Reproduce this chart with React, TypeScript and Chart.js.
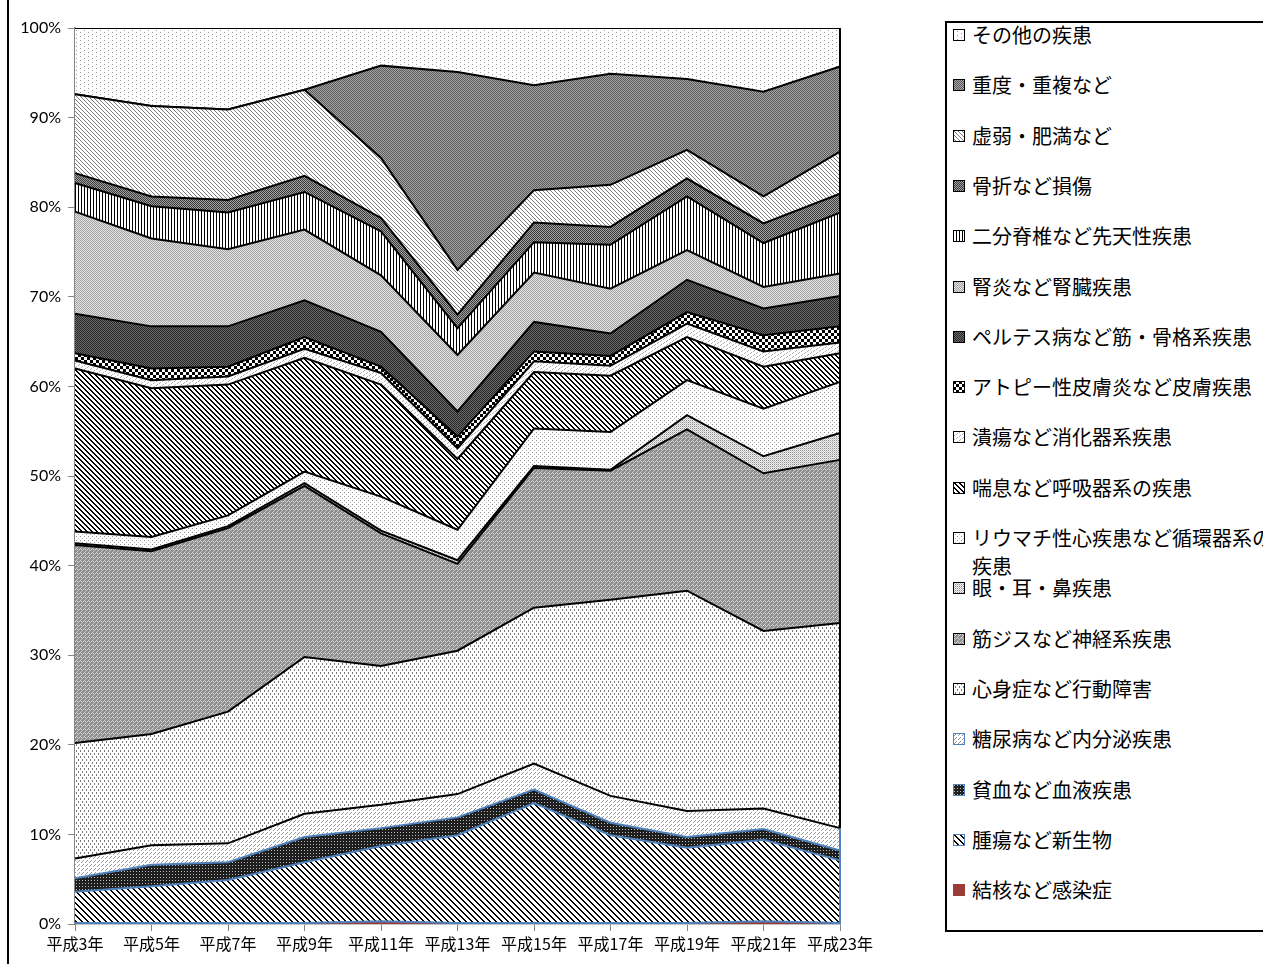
import React, { useEffect, useRef } from 'react';
import { Chart, registerables } from 'chart.js';
Chart.register(...registerables);

const categories = ['平成3年', '平成5年', '平成7年', '平成9年', '平成11年', '平成13年', '平成15年', '平成17年', '平成19年', '平成21年', '平成23年'];

// shares (%) per year, bottom of stack first
const kekkaku = [0.1, 0.1, 0.1, 0.1, 0.3, 0.1, 0.1, 0.1, 0.1, 0.3, 0.1];
const shuyou = [3.5, 4.1, 4.8, 6.8, 8.4, 9.8, 13.4, 9.8, 8.4, 9.1, 7.0];
const hinketsu = [1.5, 2.4, 2.0, 2.8, 2.0, 2.0, 1.5, 1.4, 1.2, 1.2, 1.1];
const tounyou = [2.2, 2.2, 2.1, 2.6, 2.6, 2.6, 2.9, 3.0, 2.9, 2.3, 2.5];
const shinshin = [12.9, 12.4, 14.7, 17.5, 15.5, 16.0, 17.4, 21.9, 24.6, 19.8, 22.9];
const kinjisu = [22.1, 20.4, 20.5, 19.1, 14.8, 9.7, 15.6, 14.4, 18.0, 17.6, 18.2];
const ganjibi = [0.2, 0.2, 0.2, 0.3, 0.3, 0.4, 0.2, 0.1, 1.6, 1.9, 3.0];
const ryumachi = [1.3, 1.4, 1.2, 1.3, 3.8, 3.4, 4.2, 4.2, 3.9, 5.3, 5.7];
const zensoku = [18.2, 16.6, 14.6, 12.7, 12.5, 7.9, 6.3, 6.3, 4.8, 4.7, 3.2];
const kaiyou = [0.9, 0.9, 0.9, 1.0, 1.3, 1.2, 1.2, 1.1, 1.5, 1.7, 1.2];
const atopy = [0.8, 1.3, 1.1, 1.3, 0.7, 1.3, 1.1, 1.1, 1.3, 1.8, 1.8];
const perthes = [4.4, 4.7, 4.5, 4.1, 3.9, 2.8, 3.3, 2.5, 3.6, 3.0, 3.4];
const jinen = [11.4, 9.8, 8.6, 7.9, 6.3, 6.3, 5.5, 5.0, 3.3, 2.4, 2.5];
const nibun = [3.2, 3.6, 4.1, 4.2, 4.9, 3.0, 3.4, 4.9, 6.0, 4.9, 6.8];
const kossetsu = [1.1, 1.1, 1.4, 1.8, 1.5, 1.5, 2.2, 2.0, 2.0, 2.2, 2.1];
const kyojaku = [8.8, 10.1, 10.1, 9.6, 6.7, 5.0, 3.6, 4.7, 3.2, 3.0, 4.7];
const juudo = [0, 0, 0, 0, 10.3, 22.1, 11.7, 12.4, 7.9, 11.7, 9.5];
const sonota = [7.4, 8.7, 9.1, 6.9, 4.2, 4.9, 6.4, 5.1, 5.7, 7.1, 4.3];

const yTicks = [0, 10, 20, 30, 40, 50, 60, 70, 80, 90, 100];

const BLUE = '#4F81BD';

type Px = [number, number, string];
function makeTile(w: number, h: number, bg: string, px: Px[]): HTMLCanvasElement {
  const c = document.createElement('canvas');
  c.width = w;
  c.height = h;
  const g = c.getContext('2d')!;
  g.fillStyle = bg;
  g.fillRect(0, 0, w, h);
  for (const [x, y, col] of px) {
    g.fillStyle = col;
    g.fillRect(x, y, 1, 1);
  }
  return c;
}
function diagTile(w: number, thick: number, color: string, bg: string) {
  const px: Px[] = [];
  for (let i = 0; i < w; i++) for (let t = 0; t < thick; t++) px.push([(i + t) % w, i, color]);
  return makeTile(w, w, bg, px);
}

const tiles: Record<string, () => HTMLCanvasElement | string> = {
  kekkaku: () => '#9B3B38',
  shuyou: () => diagTile(6, 2, '#000', '#fff'),
  hinketsu: () => makeTile(3, 3, '#1e1e1e', [[1, 1, '#bbbbbb']]),
  tounyou: () => makeTile(4, 4, '#fff', [[1, 2, '#9a9a9a'], [2, 1, '#9a9a9a'], [3, 0, '#9a9a9a']]),
  shinshin: () => makeTile(4, 6, '#fff', [[0, 0, '#7a7a7a'], [0, 1, '#7a7a7a'], [2, 3, '#7a7a7a'], [2, 4, '#7a7a7a']]),
  kinjisu: () => makeTile(4, 4, '#8e8e8e', [[0, 0, '#d6d6d6'], [1, 1, '#d6d6d6'], [2, 2, '#c8c8c8'], [3, 1, '#d6d6d6'], [1, 3, '#c8c8c8']]),
  ganjibi: () => makeTile(2, 2, '#f2f2f2', [[0, 0, '#8a8a8a'], [1, 1, '#c8c8c8']]),
  ryumachi: () => makeTile(4, 4, '#fff', [[0, 0, '#8f8f8f'], [2, 2, '#b5b5b5']]),
  zensoku: () => diagTile(5, 2, '#000', '#fff'),
  kaiyou: () => makeTile(6, 4, '#fff', [[0, 1, '#b0b0b0'], [1, 0, '#b0b0b0'], [3, 3, '#b0b0b0'], [4, 2, '#b0b0b0']]),
  atopy: () => {
    const px: Px[] = [];
    for (let i = 0; i < 3; i++) for (let j = 0; j < 3; j++) { px.push([i, j, '#000']); px.push([i + 3, j + 3, '#000']); }
    return makeTile(6, 6, '#fff', px);
  },
  perthes: () => makeTile(2, 2, '#6c6c6c', [[0, 0, '#262626'], [1, 1, '#262626']]),
  jinen: () => makeTile(2, 2, '#e2e2e2', [[0, 0, '#a4a4a4'], [1, 1, '#a4a4a4']]),
  nibun: () => makeTile(3, 1, '#fff', [[0, 0, '#000']]),
  kossetsu: () => makeTile(2, 2, '#a2a2a2', [[0, 0, '#3a3a3a'], [1, 1, '#3a3a3a']]),
  kyojaku: () => diagTile(4, 1, '#7c7c7c', '#fff'),
  juudo: () => makeTile(2, 2, '#a6a6a6', [[0, 0, '#5a5a5a'], [1, 1, '#5a5a5a']]),
  sonota: () => makeTile(8, 4, '#fff', [[0, 0, '#9a9a9a'], [4, 2, '#9a9a9a']]),
};

const series = [
  { key: 'kekkaku', label: '結核など感染症', data: kekkaku, border: BLUE, swatchBorder: '#9B3B38' },
  { key: 'shuyou', label: '腫瘍など新生物', data: shuyou, border: BLUE, swatchBorder: BLUE },
  { key: 'hinketsu', label: '貧血など血液疾患', data: hinketsu, border: BLUE, swatchBorder: BLUE },
  { key: 'tounyou', label: '糖尿病など内分泌疾患', data: tounyou, border: '#000', swatchBorder: BLUE },
  { key: 'shinshin', label: '心身症など行動障害', data: shinshin, border: '#000', swatchBorder: '#000' },
  { key: 'kinjisu', label: '筋ジスなど神経系疾患', data: kinjisu, border: '#000', swatchBorder: '#000' },
  { key: 'ganjibi', label: '眼・耳・鼻疾患', data: ganjibi, border: '#000', swatchBorder: '#000' },
  { key: 'ryumachi', label: 'リウマチ性心疾患など循環器系の疾患', data: ryumachi, border: '#000', swatchBorder: '#000' },
  { key: 'zensoku', label: '喘息など呼吸器系の疾患', data: zensoku, border: '#000', swatchBorder: '#000' },
  { key: 'kaiyou', label: '潰瘍など消化器系疾患', data: kaiyou, border: '#000', swatchBorder: '#000' },
  { key: 'atopy', label: 'アトピー性皮膚炎など皮膚疾患', data: atopy, border: '#000', swatchBorder: '#000' },
  { key: 'perthes', label: 'ペルテス病など筋・骨格系疾患', data: perthes, border: '#000', swatchBorder: '#000' },
  { key: 'jinen', label: '腎炎など腎臓疾患', data: jinen, border: '#000', swatchBorder: '#000' },
  { key: 'nibun', label: '二分脊椎など先天性疾患', data: nibun, border: '#000', swatchBorder: '#000' },
  { key: 'kossetsu', label: '骨折など損傷', data: kossetsu, border: '#000', swatchBorder: '#000' },
  { key: 'kyojaku', label: '虚弱・肥満など', data: kyojaku, border: '#000', swatchBorder: '#000' },
  { key: 'juudo', label: '重度・重複など', data: juudo, border: '#000', swatchBorder: '#000' },
  { key: 'sonota', label: 'その他の疾患', data: sonota, border: '#000', swatchBorder: '#000' },
];

const legendOrder = [...series].reverse();

function fillOf(ctx: CanvasRenderingContext2D, key: string): string | CanvasPattern {
  const t = tiles[key]();
  if (typeof t === 'string') return t;
  return ctx.createPattern(t, 'repeat') as CanvasPattern;
}

const edgePlugin = {
  id: 'rightEdge',
  afterDatasetsDraw(chart: any) {
    const { ctx, scales } = chart;
    const x = scales.x;
    const y = scales.y;
    const last = categories.length - 1;
    const px = x.getPixelForValue(last);
    const blueTop = kekkaku[last] + shuyou[last] + hinketsu[last] + tounyou[last];
    ctx.save();
    ctx.lineWidth = 2;
    ctx.strokeStyle = '#000';
    ctx.beginPath();
    ctx.moveTo(px, y.getPixelForValue(blueTop));
    ctx.lineTo(px, y.getPixelForValue(100));
    ctx.stroke();
    ctx.strokeStyle = BLUE;
    ctx.beginPath();
    ctx.moveTo(px, y.getPixelForValue(0));
    ctx.lineTo(px, y.getPixelForValue(blueTop));
    ctx.stroke();
    ctx.restore();
  },
};

export default function App() {
  const canvasRef = useRef<HTMLCanvasElement | null>(null);
  const swatchRefs = useRef<(HTMLCanvasElement | null)[]>([]);

  useEffect(() => {
    const canvas = canvasRef.current;
    if (!canvas) return;
    const ctx = canvas.getContext('2d')!;
    const datasets = series.map((s, i) => ({
      label: s.label,
      data: s.data,
      backgroundColor: fillOf(ctx, s.key),
      borderColor: s.border,
      borderWidth: 2,
      pointRadius: 0,
      pointHoverRadius: 0,
      tension: 0,
      fill: i === 0 ? 'origin' : '-1',
    }));
    const chart = new Chart(canvas, {
      type: 'line',
      data: { labels: categories, datasets: datasets as any },
      options: {
        animation: false,
        responsive: false,
        maintainAspectRatio: false,
        layout: { padding: { top: 28, right: 95, left: 0, bottom: 0 } },
        plugins: { legend: { display: false }, tooltip: { enabled: false } },
        scales: {
          x: {
            type: 'category',
            offset: false,
            grid: { drawOnChartArea: false, drawTicks: true, tickLength: 7, color: '#868686' },
            border: { color: '#868686', width: 1.5 },
            ticks: {
              color: '#000',
              font: { family: '"Noto Sans CJK JP"', size: 16 },
              maxRotation: 0,
              autoSkip: false,
              padding: 3,
            },
            afterFit: (s: any) => { s.height = 40; },
          },
          y: {
            stacked: true,
            min: 0,
            max: 100,
            z: 1,
            afterBuildTicks: (s: any) => { s.ticks = yTicks.map((v) => ({ value: v })); },
            grid: { drawOnChartArea: false, drawTicks: true, tickLength: 7, color: '#868686' },
            border: { color: '#868686', width: 1.5 },
            ticks: {
              color: '#000',
              font: { family: 'Lato, "Noto Sans"', size: 16 },
              padding: 7,
              callback: (v: any) => v + '%',
            },
            afterFit: (s: any) => { s.width = 75; },
          },
        },
      },
      plugins: [edgePlugin],
    });

    legendOrder.forEach((s, i) => {
      const c = swatchRefs.current[i];
      if (!c) return;
      const g = c.getContext('2d')!;
      g.clearRect(0, 0, c.width, c.height);
      g.fillStyle = fillOf(g, s.key) as any;
      g.fillRect(0, 0, c.width, c.height);
      g.strokeStyle = s.swatchBorder;
      g.lineWidth = 1;
      g.strokeRect(0.5, 0.5, c.width - 1, c.height - 1);
    });

    return () => chart.destroy();
  }, []);

  return (
    <div style={{ position: 'absolute', left: 0, top: 0, width: 1263, height: 964, overflow: 'hidden', background: '#fff' }}>
      <div style={{ position: 'absolute', left: 7, top: 0, width: 2, height: 964, background: '#000' }} />
      <canvas ref={canvasRef} width={935} height={964} style={{ position: 'absolute', left: 0, top: 0 }} />
      <div
        style={{
          position: 'absolute',
          left: 945,
          top: 21,
          width: 400,
          height: 907,
          border: '2px solid #000',
          boxSizing: 'content-box',
          fontFamily: '"Noto Sans CJK JP"',
          fontSize: 20,
          color: '#000',
        }}
      >
        {legendOrder.map((s, i) => {
          const center = 35 + 50.3 * i - 23;
          return (
            <div key={s.key} style={{ position: 'absolute', left: 0, top: center - 14, width: 400 }}>
              <canvas
                ref={(el) => { swatchRefs.current[i] = el; }}
                width={12}
                height={12}
                style={{ position: 'absolute', left: 6, top: 8 }}
              />
              <div style={{ position: 'absolute', left: 25, top: 0, width: 303, lineHeight: '28px', whiteSpace: 'normal' }}>
                {s.label}
              </div>
            </div>
          );
        })}
      </div>
    </div>
  );
}
